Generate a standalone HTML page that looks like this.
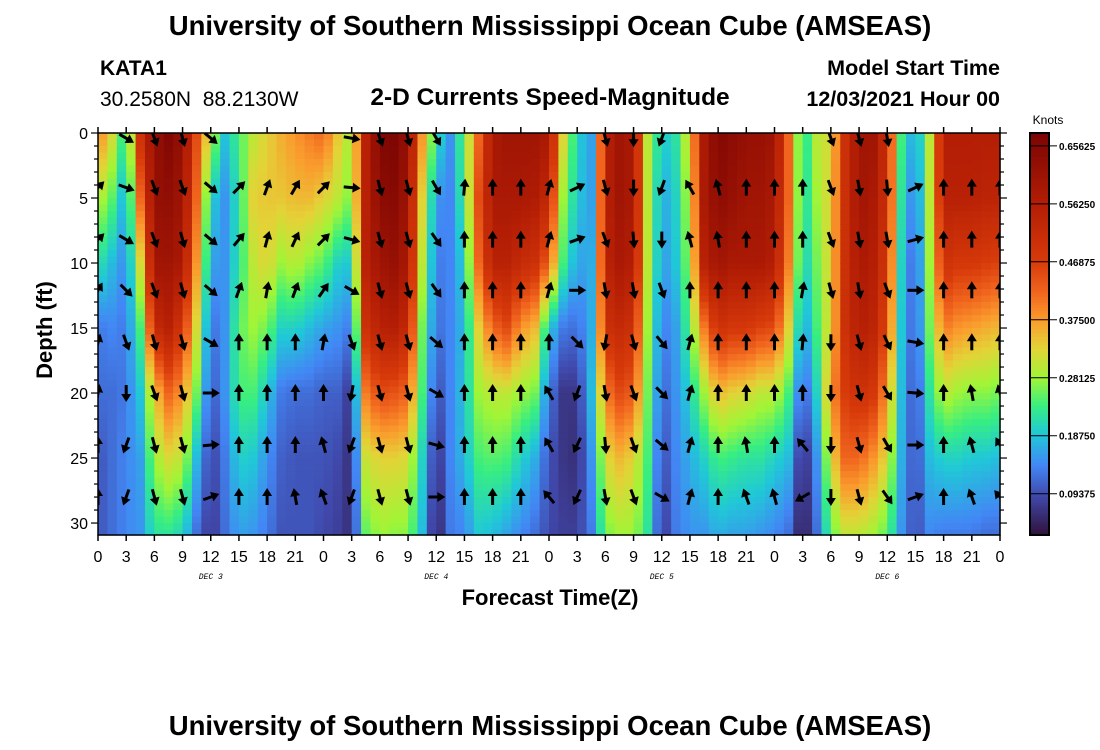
<!DOCTYPE html>
<html><head><meta charset="utf-8">
<style>
html,body{margin:0;padding:0;background:#fff;width:1100px;height:750px;overflow:hidden;font-family:"Liberation Sans",Arial,sans-serif}
svg{display:block}
</style></head>
<body>
<svg id="chart" width="1100" height="750" viewBox="0 0 1100 750" xmlns="http://www.w3.org/2000/svg" font-family="Liberation Sans, Arial, sans-serif">
<text x="550" y="35" text-anchor="middle" font-size="27.5" font-weight="bold">University of Southern Mississippi Ocean Cube (AMSEAS)</text>
<text x="100" y="75" font-size="21" font-weight="bold">KATA1</text>
<text x="100" y="106" font-size="21">30.2580N&#160;&#160;88.2130W</text>
<text x="550" y="105" text-anchor="middle" font-size="24.5" font-weight="bold">2-D Currents Speed-Magnitude</text>
<text x="1000" y="75" text-anchor="end" font-size="21.5" font-weight="bold">Model Start Time</text>
<text x="1000" y="106" text-anchor="end" font-size="21.5" font-weight="bold">12/03/2021 Hour 00</text>
<g id="heat"></g>
<g id="arrows"></g>
<rect x="98" y="133" width="902" height="402" fill="none" stroke="#000" stroke-width="1.5"/>
<g id="axes"></g>
<text transform="translate(52,330) rotate(-90)" text-anchor="middle" font-size="22" font-weight="bold">Depth (ft)</text>
<text x="550" y="605" text-anchor="middle" font-size="22" font-weight="bold">Forecast Time(Z)</text>
<text x="1048" y="124" text-anchor="middle" font-size="12">Knots</text>
<g id="cbar"></g>
<text x="550" y="735" text-anchor="middle" font-size="27.5" font-weight="bold">University of Southern Mississippi Ocean Cube (AMSEAS)</text>
</svg>
<script>
// ---- data ----
const gridDepths = [0,5,10,15,20,25,31];
const gridTimeStep = 1.5;
const speedCols = [
[.40,.30,.22,.13,.12,.10,.10],[.32,.25,.18,.14,.12,.12,.12],[.21,.16,.14,.13,.13,.14,.14],[.50,.42,.32,.24,.19,.16,.15],
[.62,.62,.60,.52,.34,.28,.22],[.66,.63,.60,.55,.42,.32,.22],[.62,.60,.58,.48,.38,.30,.20],[.45,.42,.38,.32,.26,.18,.12],
[.30,.20,.16,.12,.10,.08,.07],[.19,.15,.15,.15,.15,.13,.12],[.24,.22,.22,.25,.24,.20,.16],[.30,.33,.30,.28,.24,.19,.15],
[.33,.34,.33,.26,.19,.15,.13],[.36,.34,.28,.20,.13,.11,.10],[.38,.35,.30,.20,.12,.10,.10],[.40,.35,.27,.18,.12,.10,.10],
[.42,.33,.25,.16,.11,.10,.09],[.34,.30,.20,.15,.11,.09,.08],[.28,.26,.19,.13,.07,.06,.06],[.55,.55,.55,.50,.40,.31,.25],
[.66,.64,.60,.55,.45,.33,.28],[.67,.65,.62,.56,.44,.33,.27],[.62,.60,.58,.52,.42,.32,.27],[.38,.33,.30,.26,.24,.20,.18],
[.22,.15,.13,.12,.09,.06,.04],[.15,.14,.14,.14,.14,.14,.13],[.26,.24,.20,.18,.19,.18,.14],[.42,.45,.42,.33,.28,.24,.19],
[.58,.58,.55,.42,.30,.25,.18],[.60,.58,.55,.45,.30,.24,.16],[.60,.58,.52,.38,.28,.20,.14],[.60,.57,.50,.35,.26,.17,.12],
[.58,.52,.42,.19,.13,.10,.09],[.33,.28,.24,.13,.07,.07,.08],[.20,.19,.16,.12,.07,.06,.08],[.16,.16,.17,.17,.18,.15,.13],
[.55,.55,.54,.50,.40,.32,.26],[.60,.60,.58,.52,.45,.35,.28],[.58,.58,.56,.50,.43,.33,.28],[.30,.30,.30,.28,.26,.24,.22],
[.19,.16,.15,.13,.11,.09,.07],[.22,.20,.19,.16,.15,.14,.13],[.33,.30,.28,.25,.20,.17,.15],[.58,.58,.55,.40,.28,.20,.15],
[.66,.64,.60,.50,.35,.24,.17],[.64,.62,.58,.48,.33,.23,.16],[.62,.60,.58,.48,.32,.22,.16],[.62,.60,.58,.46,.30,.22,.15],
[.60,.58,.56,.45,.30,.20,.14],[.42,.42,.40,.33,.24,.18,.12],[.20,.20,.19,.15,.10,.05,.03],[.30,.28,.26,.24,.20,.15,.12],
[.32,.33,.33,.33,.38,.32,.25],[.50,.50,.50,.50,.47,.42,.30],[.60,.60,.58,.56,.50,.42,.30],[.60,.58,.56,.54,.48,.38,.28],
[.50,.50,.48,.45,.38,.32,.25],[.24,.22,.20,.19,.18,.17,.15],[.15,.12,.10,.10,.09,.09,.09],[.30,.30,.28,.26,.22,.18,.14],
[.56,.55,.50,.40,.30,.20,.13],[.56,.55,.48,.38,.28,.20,.13],[.56,.55,.48,.37,.27,.19,.13],[.56,.54,.47,.36,.27,.19,.12],
[.56,.54,.46,.35,.26,.18,.12]
];
const arrowTimeStep = 3;
const arrowDepths = [0.4,4.2,8.2,12.1,16.1,20,24,28];
const arrowDirs = [
[null,45,45,30,15,10,0,0],[120,110,120,135,160,180,200,200],[160,160,160,160,165,160,165,165],[165,160,165,165,165,165,165,165],
[130,130,130,130,120,90,85,70],[null,45,40,20,0,0,0,0],[null,20,15,10,0,0,0,0],[null,30,25,20,0,0,0,350],
[null,45,45,35,10,0,345,340],[100,95,105,120,160,190,200,200],[160,165,165,165,165,165,165,165],[165,165,165,165,165,165,165,165],
[150,150,145,145,130,120,105,90],[null,5,0,0,0,0,0,0],[null,0,0,0,0,0,0,0],[null,0,0,0,0,0,0,0],
[null,15,15,15,0,330,330,320],[null,65,70,90,135,200,205,205],[165,165,160,170,190,170,175,170],[180,180,175,170,165,160,160,160],
[200,200,180,160,140,135,130,120],[null,330,345,0,15,15,15,15],[null,345,350,0,0,0,0,0],[null,0,0,0,0,0,350,340],
[null,0,0,0,0,0,0,345],[null,0,0,10,5,0,320,240],[160,160,160,165,180,180,180,180],[165,170,170,170,165,165,165,165],
[170,175,170,160,155,150,150,145],[null,65,75,90,100,95,90,70],[null,0,0,0,0,0,0,0],[null,0,0,0,0,350,345,340],
[null,0,0,0,0,345,330,320]
];
const xTickHours = [0,3,6,9,12,15,18,21,0,3,6,9,12,15,18,21,0,3,6,9,12,15,18,21,0,3,6,9,12,15,18,21,0];
const dayLabels = ["DEC 3","DEC 4","DEC 5","DEC 6"];
const dayLabelHours = [12,36,60,84];
const yTickLabels = [0,5,10,15,20,25,30];
const cbarTicks = [0.09375,0.1875,0.28125,0.375,0.46875,0.5625,0.65625];
const cbarLabels = ["0.09375","0.18750","0.28125","0.37500","0.46875","0.56250","0.65625"];

// ---- scales ----
const X0=98,X1=1000,Y0=133,Y1=535,TMAX=96,DMAX=30.92;
const xs=t=>X0+(X1-X0)*t/TMAX;
const ys=d=>Y0+(Y1-Y0)*d/DMAX;
const CB_TOP=133,CB_BOT=535,CB_MAX=0.677,CB_MIN=0.027;
const cs=v=>CB_BOT-(CB_BOT-CB_TOP)*(v-CB_MIN)/(CB_MAX-CB_MIN);
const stops=[[0.027,[48,18,59]],[0.09,[64,72,170]],[0.14,[66,135,245]],[0.19,[32,200,215]],[0.235,[55,238,130]],
[0.28,[160,245,55]],[0.33,[228,210,55]],[0.375,[250,155,45]],[0.42,[240,100,30]],[0.47,[215,58,10]],[0.56,[180,30,5]],[0.677,[122,4,3]]];
function color(v){
  if(v<=stops[0][0])return `rgb(${stops[0][1]})`;
  for(let i=1;i<stops.length;i++){ if(v<=stops[i][0]){const a=stops[i-1],b=stops[i],f=(v-a[0])/(b[0]-a[0]);
    return `rgb(${a[1].map((c,k)=>Math.round(c+(b[1][k]-c)*f)).join(',')})`;}}
  return `rgb(${stops[stops.length-1][1]})`;
}
function sample(t,d){
  const fi=Math.min(t/gridTimeStep,speedCols.length-1.0001), i=Math.floor(fi), ft=fi-i;
  let j=0; while(j<gridDepths.length-2&&d>gridDepths[j+1])j++;
  const fd=Math.max(0,Math.min(1,(d-gridDepths[j])/(gridDepths[j+1]-gridDepths[j])));
  const a=speedCols[i],b=speedCols[i+1];
  const v0=a[j]+(a[j+1]-a[j])*fd, v1=b[j]+(b[j+1]-b[j])*fd;
  return v0+(v1-v0)*ft;
}
const NS="http://www.w3.org/2000/svg";
function mk(tag,attrs,parent){const e=document.createElementNS(NS,tag);for(const k in attrs)e.setAttribute(k,attrs[k]);parent.appendChild(e);return e;}

// ---- heatmap ----
const heat=document.getElementById('heat');
const dt=1, dd=0.5;
for(let t=0;t<TMAX;t+=dt){
  for(let d=0;d<DMAX;d+=dd){
    const v=sample(t+dt/2,d+dd/2);
    const r=mk('rect',{x:xs(t).toFixed(2),y:ys(d).toFixed(2),width:(xs(t+dt)-xs(t)+0.6).toFixed(2),height:(ys(Math.min(d+dd,DMAX))-ys(d)+0.6).toFixed(2),fill:color(v)},heat);
    
    
  }
}

// ---- arrows ----
const arrows=document.getElementById('arrows');
const cp=mk('clipPath',{id:'pc'},arrows);
mk('rect',{x:X0,y:Y0,width:X1-X0,height:Y1-Y0},cp);
arrows.setAttribute('clip-path','url(#pc)');
arrowDirs.forEach((col,i)=>{
  col.forEach((ang,j)=>{
    if(ang===null)return;
    const cx=xs(i*arrowTimeStep), cy=ys(arrowDepths[j]);
    const g=mk('g',{transform:`translate(${cx.toFixed(1)},${cy.toFixed(1)}) rotate(${ang})`},arrows);
    
    
    mk('line',{x1:0,y1:8,x2:0,y2:-3,stroke:'#000','stroke-width':3},g);
    mk('path',{d:'M-5,-1 L0,-9 L5,-1 Z',fill:'#000'},g);
  });
});

// ---- axes ----
const axes=document.getElementById('axes');
xTickHours.forEach((h,i)=>{
  const x=xs(i*3);
  mk('line',{x1:x,y1:Y0-6,x2:x,y2:Y0,stroke:'#000','stroke-width':1.5},axes);
  mk('line',{x1:x,y1:Y1,x2:x,y2:Y1+6,stroke:'#000','stroke-width':1.5},axes);
  const t=mk('text',{x:x,y:Y1+27,'text-anchor':'middle','font-size':16},axes);
  t.textContent=h;
  
  
});
dayLabels.forEach((lab,i)=>{
  const t=mk('text',{x:xs(dayLabelHours[i]),y:579,'text-anchor':'middle','font-size':8,'font-style':'italic','font-family':'Liberation Mono, monospace'},axes);
  t.textContent=lab;
  
  
});
for(let d=0;d<=30;d++){
  const y=ys(d), L=(d%5===0)?7:4;
  mk('line',{x1:X0-L,y1:y,x2:X0,y2:y,stroke:'#000','stroke-width':1.2},axes);
  mk('line',{x1:X1,y1:y,x2:X1+L,y2:y,stroke:'#000','stroke-width':1.2},axes);
}
yTickLabels.forEach(d=>{
  const t=mk('text',{x:X0-10,y:ys(d)+6,'text-anchor':'end','font-size':16},axes);
  t.textContent=d;
  
  
});

// ---- colorbar ----
const cbar=document.getElementById('cbar');
for(let y=CB_TOP;y<CB_BOT;y+=2){
  const v=CB_MIN+(CB_MAX-CB_MIN)*(CB_BOT-(y+1))/(CB_BOT-CB_TOP);
  const r=mk('rect',{x:1030,y:y,width:19,height:2.5,fill:color(v)},cbar);
  
  
}
mk('rect',{x:1030,y:CB_TOP,width:19,height:CB_BOT-CB_TOP,fill:'none',stroke:'#000','stroke-width':2},cbar);
cbarTicks.forEach((v,i)=>{
  const y=cs(v);
  mk('line',{x1:1030,y1:y,x2:1057,y2:y,stroke:'#000','stroke-width':1},cbar);
  const t=mk('text',{x:1059,y:y+4,'font-size':10,'font-weight':'bold'},cbar);
  t.textContent=cbarLabels[i];
  
  
});
</script>
</body></html>
